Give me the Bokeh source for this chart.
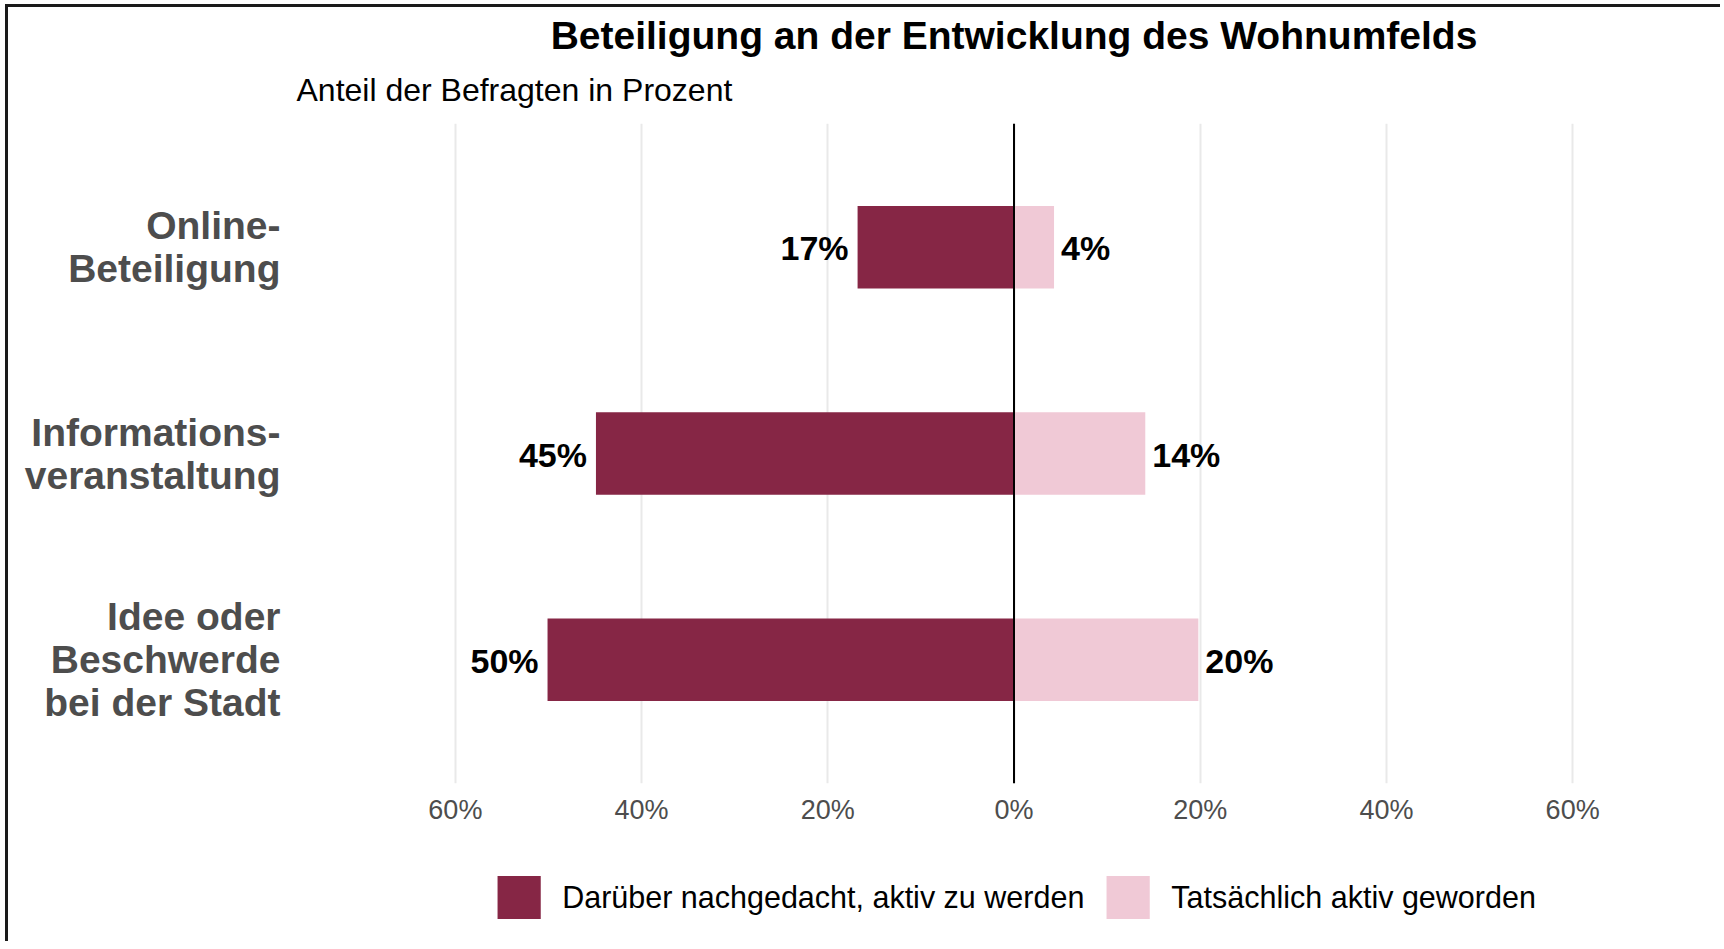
from bokeh.plotting import figure
from bokeh.layouts import column
from bokeh.models import Range1d, FixedTicker, Span, Title, Legend, LegendItem
from bokeh.core.properties import value
from bokeh.embed import file_html
from bokeh.resources import INLINE

# ---------------- data ----------------
categories = ["Online-\nBeteiligung",
              "Informations-\nveranstaltung",
              "Idee oder\nBeschwerde\nbei der Stadt"]
considered = [16.8, 44.9, 50.1]          # "Darüber nachgedacht, aktiv zu werden"
active = [4.3, 14.1, 19.8]               # "Tatsächlich aktiv geworden"
considered_labels = ["17%", "45%", "50%"]
active_labels = ["4%", "14%", "20%"]
series_names = ["Darüber nachgedacht, aktiv zu werden", "Tatsächlich aktiv geworden"]
x_ticks = [-60, -40, -20, 0, 20, 40, 60]
x_tick_labels = ["60%", "40%", "20%", "0%", "20%", "40%", "60%"]
title_text = "Beteiligung an der Entwicklung des Wohnumfelds"
subtitle_text = "Anteil der Befragten in Prozent"

# ---------------- style ----------------
FONT = "Liberation Sans"
DARK = "#862645"
PINK = "#f0c9d6"
W = 1712
H_MAIN = 846
H_LEG = 88

ypos = list(range(1, len(categories) + 1))

fig = figure(width=W, height=H_MAIN, output_backend="svg", toolbar_location=None, title=None,
             x_range=Range1d(-66, 66), y_range=Range1d(len(categories) + 0.6, 0.4),
             min_border_left=391, min_border_right=W - 1620,
             min_border_top=116, min_border_bottom=H_MAIN - 776)
fig.outline_line_color = None
fig.background_fill_color = "white"
fig.border_fill_color = "white"

# grid
fig.xgrid.ticker = FixedTicker(ticks=x_ticks)
fig.xgrid.grid_line_color = "#e9e9e9"
fig.xgrid.grid_line_width = 2
fig.ygrid.visible = False

# bars
fig.hbar(y=ypos, left=[-v for v in considered], right=0, height=0.4,
         fill_color=DARK, line_color=None)
fig.hbar(y=ypos, left=0, right=active, height=0.4,
         fill_color=PINK, line_color=None)

# zero line
fig.add_layout(Span(location=0, dimension="height", line_color="black", line_width=2))

# value labels
fig.text(x=[-v for v in considered], y=ypos, text=considered_labels,
         text_align="right", text_baseline="middle", x_offset=-9, y_offset=1,
         text_font=value(FONT), text_font_style="bold", text_font_size="34px",
         text_color="black")
fig.text(x=active, y=ypos, text=active_labels,
         text_align="left", text_baseline="middle", x_offset=7, y_offset=1,
         text_font=value(FONT), text_font_style="bold", text_font_size="34px",
         text_color="black")

# x axis
fig.xaxis.ticker = FixedTicker(ticks=x_ticks)
fig.xaxis.major_label_overrides = {t: l for t, l in zip(x_ticks, x_tick_labels)}
fig.xaxis.axis_line_color = None
fig.xaxis.major_tick_line_color = None
fig.xaxis.minor_tick_line_color = None
fig.xaxis.major_label_text_font = FONT
fig.xaxis.major_label_text_font_size = "27px"
fig.xaxis.major_label_text_color = "#4d4d4d"
fig.xaxis.major_label_standoff = 5

# y axis
fig.yaxis.ticker = FixedTicker(ticks=ypos)
fig.yaxis.major_label_overrides = {y: c for y, c in zip(ypos, categories)}
fig.yaxis.axis_line_color = None
fig.yaxis.major_tick_line_color = None
fig.yaxis.minor_tick_line_color = None
fig.yaxis.major_label_text_font = FONT
fig.yaxis.major_label_text_font_style = "bold"
fig.yaxis.major_label_text_font_size = "39px"
fig.yaxis.major_label_text_line_height = 1.0
fig.yaxis.major_label_text_color = "#4d4d4d"
fig.yaxis.major_label_standoff = 113

# subtitle (nearest the frame) and title
fig.add_layout(Title(text=subtitle_text, align="left", offset=-103, standoff=31,
                     text_font=FONT, text_font_style="normal", text_font_size="32px",
                     text_color="black"), "above")
fig.add_layout(Title(text=title_text, align="center", offset=-4, standoff=-4,
                     text_font=FONT, text_font_style="bold", text_font_size="39px",
                     text_color="black"), "above")

# legend in its own strip below the chart
leg = figure(width=W, height=H_LEG, output_backend="svg", toolbar_location=None, title=None,
             x_range=Range1d(-66, 66), y_range=Range1d(0, 1),
             x_axis_type=None, y_axis_type=None,
             min_border_left=391, min_border_right=W - 1620,
             min_border_top=0, min_border_bottom=0)
leg.outline_line_color = None
leg.xgrid.visible = False
leg.ygrid.visible = False
lr_cons = leg.hbar(y=ypos, left=[-v for v in considered], right=0, height=0.4,
                   fill_color=DARK, line_color=None, visible=False)
lr_act = leg.hbar(y=ypos, left=0, right=active, height=0.4,
                  fill_color=PINK, line_color=None, visible=False)
legend = Legend(items=[LegendItem(label=series_names[0], renderers=[lr_cons]),
                       LegendItem(label=series_names[1], renderers=[lr_act])],
                orientation="horizontal", location="center",
                glyph_width=54, glyph_height=54, label_standoff=17, spacing=16,
                padding=0, margin=0, border_line_alpha=0, background_fill_alpha=0,
                inactive_fill_alpha=0,
                label_text_font=FONT, label_text_font_size="30.5px", label_height=54,
                label_text_color="black")
leg.add_layout(legend)

p = column(fig, leg, spacing=0)
p.margin = (4, 0, 0, 5)
p.styles = {"border-top": "3px solid #1a1a1a", "border-left": "3px solid #1a1a1a"}

open("out.html", "w").write(file_html(p, INLINE))
